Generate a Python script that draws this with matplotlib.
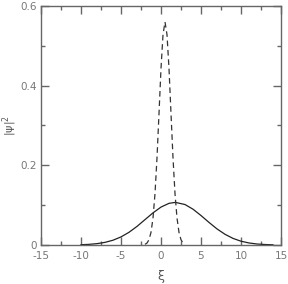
import matplotlib
matplotlib.use("Agg")
import matplotlib.pyplot as plt
from matplotlib.ticker import MultipleLocator

# Solid curve (broad)
xi_solid = [-10, -9, -8, -7, -6, -5, -4, -3, -2, -1, 0, 1, 1.8, 3, 4, 5, 6, 7, 8, 9, 10, 11, 12, 13, 14]
psi_solid = [0.0007, 0.0016, 0.0034, 0.0066, 0.012, 0.0203, 0.0319, 0.0467, 0.0637, 0.0807,
             0.0952, 0.1046, 0.107, 0.1016, 0.0899, 0.0740, 0.0567, 0.0404, 0.0269, 0.0166,
             0.0095, 0.0051, 0.0025, 0.0012, 0.0005]

# Dashed curve (narrow)
xi_dashed = [-2.0, -1.75, -1.5, -1.25, -1.0, -0.75, -0.5, -0.25, 0.0, 0.25, 0.5, 0.75,
             1.0, 1.25, 1.5, 1.75, 2.0, 2.25, 2.5, 2.75, 3.0]
psi_dashed = [0.0016, 0.0049, 0.0132, 0.0317, 0.0678, 0.129, 0.219, 0.330, 0.443, 0.528, 0.56,
              0.528, 0.443, 0.330, 0.219, 0.129, 0.0678, 0.0317, 0.0132, 0.0049, 0.0016]

x_ticks = [-15, -10, -5, 0, 5, 10, 15]
y_ticks = [0, 0.2, 0.4, 0.6]
y_tick_labels = ["0", "0.2", "0.4", "0.6"]

fig = plt.figure(figsize=(2.88, 2.84), dpi=100)
ax = fig.add_axes([41/288, 1 - 245/284, 240/288, 239/284])

ax.plot(xi_solid, psi_solid, color="#222222", lw=0.9)
ax.plot(xi_dashed, psi_dashed, color="#333333", lw=0.9, dashes=(4.5, 3))

ax.set_xlim(-15, 15)
ax.set_ylim(0, 0.6)
ax.set_xticks(x_ticks)
ax.set_xticklabels([str(t) for t in x_ticks])
ax.set_yticks(y_ticks)
ax.set_yticklabels(y_tick_labels)
ax.xaxis.set_minor_locator(MultipleLocator(2.5))
ax.yaxis.set_minor_locator(MultipleLocator(0.1))

spine_col = "#666666"
for s in ax.spines.values():
    s.set_color(spine_col)
    s.set_linewidth(1.0)
ax.tick_params(which="both", direction="in", top=True, right=True, color=spine_col,
               labelcolor="#777777", labelsize=7.5)
ax.tick_params(axis="x", which="both", pad=4)
ax.tick_params(axis="y", which="both", pad=3)
ax.tick_params(which="major", length=6, width=1.0)
ax.tick_params(which="minor", length=3, width=1.0)

ax.set_xlabel("ξ", color="#555555", fontsize=9)
ax.xaxis.set_label_coords((161 - 41) / 240, -(270 - 245) / 239)
ax.set_ylabel("|ψ|$^2$", color="#555555", fontsize=8, va="center", ha="center")
ax.yaxis.set_label_coords(-(41 - 10) / 240, (245 - 125) / 239)

fig.savefig("out.png", dpi=100)
